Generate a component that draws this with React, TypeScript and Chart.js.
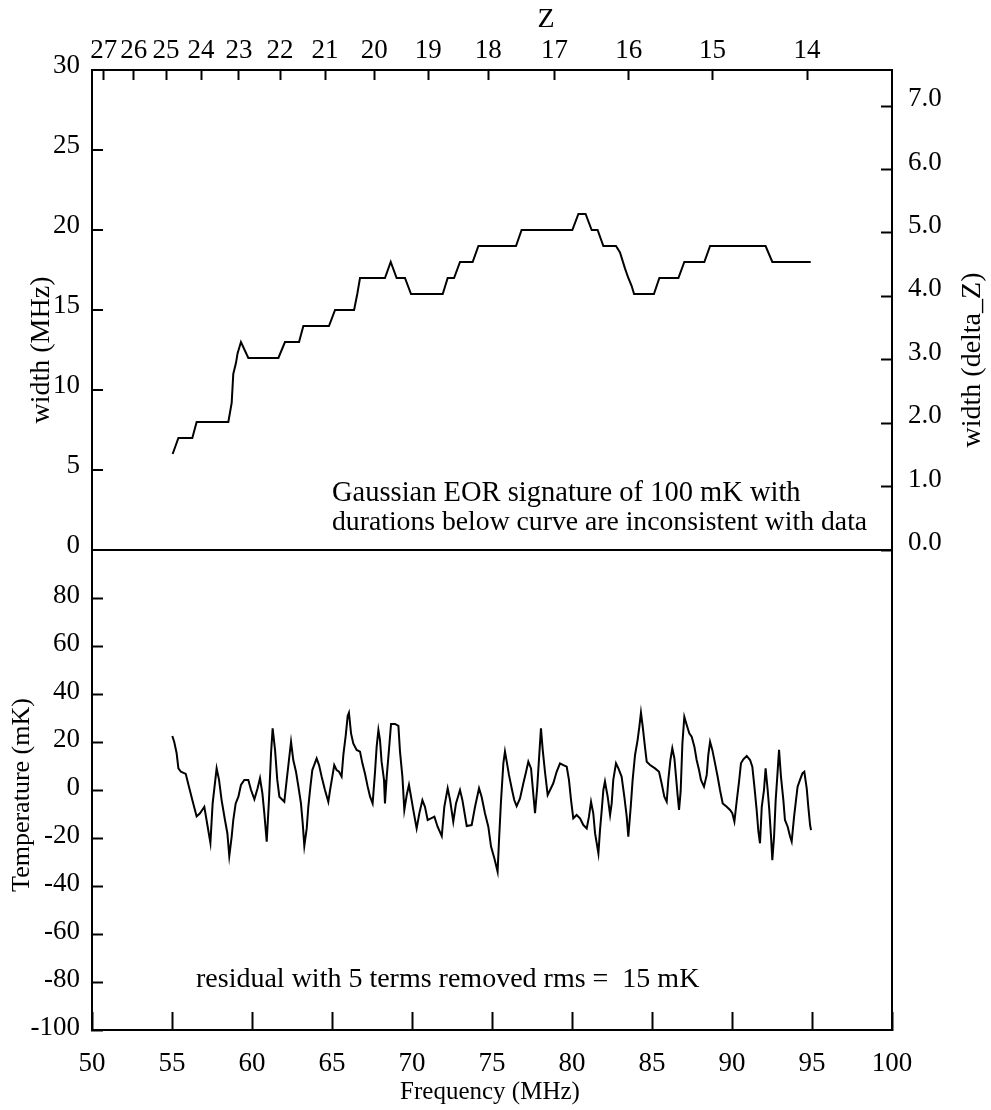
import React, { useEffect, useRef } from 'react';
import { Chart, registerables } from 'chart.js';

Chart.register(...registerables);

const FONT = '"Liberation Serif", "Times New Roman", serif';

// ---- Data ----
const widthFreq = [55.04, 55.4, 56.27, 56.54, 58.52, 58.73, 58.83, 59.0, 59.1, 59.31, 59.77, 61.65, 62.06, 62.94, 63.21, 64.81, 65.19, 66.38, 66.58, 66.75, 68.31, 68.67, 69.04, 69.56, 69.94, 71.92, 72.23, 72.63, 73.0, 73.79, 74.15, 76.5, 76.85, 80.02, 80.4, 80.85, 81.23, 81.6, 81.96, 82.75, 83.0, 83.31, 83.52, 83.73, 83.88, 85.12, 85.46, 86.65, 87.02, 88.27, 88.63, 92.1, 92.52, 94.92];
const widthMHz = [6, 7, 7, 8, 8, 9.2, 11, 11.7, 12.3, 13, 12, 12, 13, 13, 14, 14, 15, 15, 16, 17, 17, 18, 17, 17, 16, 16, 17, 17, 18, 18, 19, 19, 20, 20, 21, 21, 20, 20, 19, 19, 18.6, 17.6, 17, 16.5, 16, 16, 17, 17, 18, 18, 19, 19, 18, 18];

const tempFreq = [
  55.02, 55.14, 55.29, 55.4, 55.56, 55.86, 56.06, 56.27, 56.54, 56.75, 57.02, 57.23, 57.4, 57.54, 57.79, 57.94,
  58.1, 58.31, 58.46, 58.58, 58.73, 58.83, 58.98, 59.15, 59.31, 59.52, 59.77, 59.94, 60.15, 60.35, 60.5, 60.65,
  60.77, 60.92, 61.06, 61.19, 61.29, 61.44, 61.58, 61.71, 62.02, 62.17, 62.31, 62.44, 62.58, 62.75, 62.9, 63.06,
  63.17, 63.27, 63.42, 63.52, 63.65, 63.77, 64.04, 64.19, 64.35, 64.56, 64.77, 64.88, 65.02, 65.14, 65.29, 65.44,
  65.6, 65.71, 65.86, 65.98, 66.06, 66.19, 66.33, 66.54, 66.75, 66.9, 67.06, 67.23, 67.38, 67.54, 67.69, 67.79,
  67.9, 68.0, 68.1, 68.25, 68.31, 68.42, 68.56, 68.69, 68.94, 69.15, 69.25, 69.4, 69.52, 69.67, 69.81, 69.94,
  70.08, 70.29, 70.46, 70.65, 70.81, 70.98, 71.19, 71.4, 71.6, 71.86, 72.02, 72.23, 72.38, 72.58, 72.75, 73.0,
  73.15, 73.42, 73.73, 73.94, 74.19, 74.35, 74.56, 74.77, 74.94, 75.15, 75.35, 75.44, 75.56, 75.71, 75.81, 75.92,
  76.06, 76.23, 76.39, 76.54, 76.75, 76.96, 77.13, 77.27, 77.44, 77.54, 77.69, 77.83, 77.94, 78.06, 78.17, 78.31,
  78.48, 78.63, 78.83, 79.04, 79.25, 79.46, 79.67, 79.81, 79.94, 80.08, 80.29, 80.5, 80.71, 80.92, 81.06, 81.19,
  81.33, 81.44, 81.65, 81.75, 81.86, 81.96, 82.06, 82.23, 82.38, 82.48, 82.58, 82.75, 82.9, 83.1, 83.27, 83.42,
  83.52, 83.67, 83.79, 83.94, 84.1, 84.21, 84.31, 84.42, 84.56, 84.67, 84.88, 85.19, 85.44, 85.6, 85.77, 85.92,
  86.02, 86.15, 86.27, 86.4, 86.5, 86.6, 86.69, 86.79, 86.9, 87.02, 87.17, 87.33, 87.48, 87.65, 87.79, 87.94,
  88.06, 88.25, 88.42, 88.52, 88.63, 88.77, 88.94, 89.1, 89.25, 89.42, 89.67, 89.88, 90.02, 90.15, 90.29, 90.44,
  90.56, 90.71, 90.92, 91.13, 91.27, 91.4, 91.54, 91.65, 91.75, 91.86, 92.0, 92.1, 92.23, 92.33, 92.44, 92.52,
  92.63, 92.73, 92.83, 92.94, 93.06, 93.21, 93.31, 93.48, 93.63, 93.73, 93.88, 94.0, 94.1, 94.25, 94.4, 94.52,
  94.67, 94.77, 94.88, 94.94,
];
const tempMK = [
  22.5, 20, 15.3, 9, 7.6, 6.7, 1.4, -4.2, -11, -9.7, -7, -15.3, -22, -5.6, 9, 4.2,
  -4.2, -12.5, -18, -27.5, -19.4, -12.5, -5.6, -2.8, 2.1, 4.2, 4.2, 0, -3.9, 0.7, 4.9, -1.4,
  -9.7, -21.5, -4.2, 15.3, 25.7, 16.7, 4.2, -2.8, -4.9, 4.2, 12.5, 20.1, 12.5, 7.6, 1.4, -5.6,
  -13.9, -23.3, -16, -7, 1.4, 8.3, 13.2, 10.4, 5.6, 0, -4.9, 0, 5.6, 10.4, 8.3, 7.6,
  5.6, 14.6, 22.9, 30.8, 32.2, 23.6, 19.4, 16.7, 16, 11.1, 6.9, 1.4, -2.8, -5.6, 7.6, 18,
  25, 20.8, 11.8, 4.2, -5.6, 5.6, 16.7, 27.5, 27.5, 26.7, 16, 5.6, -8.3, -2.1, 2.1, -2.8,
  -8.3, -16, -9.7, -4.2, -7, -12.5, -11.8, -11.1, -15.3, -19.2, -7, 0.7, -4.2, -13.2, -5.6, 0,
  -4.2, -15, -14.6, -7, 0.7, -2.8, -9.7, -15.3, -23.6, -28.5, -34, -20.8, -4.9, 11.1, 16, 11.8,
  6.3, 0.7, -4.2, -6.7, -3.5, 2.8, 7.6, 11.8, 9, 1.4, -9.7, 1.4, 13.2, 25.7, 16.7, 7.6,
  -2.1, 0, 2.8, 7.6, 11.1, 10.4, 9.7, 4.2, -4.2, -11.8, -10.4, -11.8, -14.6, -16, -11.1, -4.9,
  -9.7, -18, -26.4, -16.7, -8.3, 0, 3.5, -2.8, -10.4, -5.6, 4.2, 11.1, 9, 5.6, -2.8, -11.1,
  -19.4, -7, 4.2, 14.6, 20.8, 26.4, 32.2, 26.4, 18, 11.8, 10.4, 9, 7.6, 2.8, -2.8, -4.9,
  4.2, 12.5, 17.4, 13.2, 5.6, -2.1, -8.3, -0.7, 19.4, 30.5, 27.1, 23.6, 22.2, 18, 12.5, 8.3,
  4.2, 1.4, 6.3, 14.6, 20.1, 16.7, 11.1, 5.6, 0, -5.6, -7, -8.3, -9.7, -13.2, -4.9, 3.5,
  11.1, 12.8, 14.2, 12.5, 9.7, 1.4, -8.3, -17.4, -22.2, -7, 0, 9, 0, -8.3, -19.4, -29.2,
  -19.4, -4.2, 5.6, 16.7, 5.6, -4.2, -12.5, -15.3, -19.4, -21.5, -11.1, -4.2, 1.4, 4.2, 6.9, 7.6,
  0.7, -7, -14.6, -16.7,
];

// ---- Axis ticks ----
const freqTicks = [50, 55, 60, 65, 70, 75, 80, 85, 90, 95, 100];
const zTicks = [27, 26, 25, 24, 23, 22, 21, 20, 19, 18, 17, 16, 15, 14];
const widthTicks = [0, 5, 10, 15, 20, 25, 30];
const deltaZTicks = [0, 1, 2, 3, 4, 5, 6, 7];
const tempTicks = [-100, -80, -60, -40, -20, 0, 20, 40, 60, 80];

const HI_REST_MHZ = 1420.4;

export default function App() {
  const ref = useRef<HTMLCanvasElement | null>(null);

  useEffect(() => {
    if (!ref.current) return;
    const font = { family: FONT, size: 27 };

    const textPlugin = {
      id: 'texts',
      afterDraw(chart: any) {
        const ctx = chart.ctx;
        const x = chart.scales.x;
        const yW = chart.scales.yW;
        const yT = chart.scales.yT;
        ctx.save();
        ctx.fillStyle = '#000';
        ctx.textBaseline = 'middle';
        ctx.textAlign = 'center';
        ctx.font = `28px ${FONT}`;
        ctx.fillText('Z', 546, 20);
        ctx.font = `25px ${FONT}`;
        ctx.fillText('Frequency (MHz)', 490, 1092);
        const vtext = (t: string, px: number, py: number) => {
          ctx.save();
          ctx.translate(px, py);
          ctx.rotate(-Math.PI / 2);
          ctx.fillText(t, 0, 0);
          ctx.restore();
        };
        ctx.font = `28px ${FONT}`;
        vtext('width (MHz)', 42, 350);
        ctx.font = `26px ${FONT}`;
        vtext('Temperature (mK)', 22, 795);
        ctx.font = `28px ${FONT}`;
        vtext('width (delta_Z)', 973, 360);
        ctx.textAlign = 'left';
        ctx.font = `28.5px ${FONT}`;
        ctx.fillText('Gaussian EOR signature of 100 mK with', x.getPixelForValue(65), yW.getPixelForValue(3.56));
        ctx.font = `27.7px ${FONT}`;
        ctx.fillText('durations below curve are inconsistent with data', x.getPixelForValue(65), yW.getPixelForValue(1.7));
        ctx.font = `28px ${FONT}`;
        ctx.fillText('residual with 5 terms removed rms =  15 mK', x.getPixelForValue(56.5), yT.getPixelForValue(-79));
        ctx.restore();
      },
    };

    const tickGrid = (len: number) => ({
      drawOnChartArea: false,
      drawTicks: true,
      tickLength: len,
      tickColor: '#000',
      tickWidth: 2,
    });

    const chart = new Chart(ref.current, {
      type: 'line',
      data: {
        datasets: [
          {
            data: widthFreq.map((f, i) => ({ x: f, y: widthMHz[i] })),
            xAxisID: 'x',
            yAxisID: 'yW',
            borderColor: '#000',
            borderWidth: 2,
            pointRadius: 0,
            fill: false,
            tension: 0,
          },
          {
            data: tempFreq.map((f, i) => ({ x: f, y: tempMK[i] })),
            xAxisID: 'x',
            yAxisID: 'yT',
            borderColor: '#000',
            borderWidth: 2,
            pointRadius: 0,
            fill: false,
            tension: 0,
          },
        ],
      },
      options: {
        animation: false,
        responsive: false,
        devicePixelRatio: 1,
        layout: { padding: 0 },
        plugins: { legend: { display: false }, tooltip: { enabled: false } },
        events: [],
        scales: {
          x: {
            type: 'linear',
            position: 'bottom',
            min: 50,
            max: 100,
            afterBuildTicks: (s: any) => { s.ticks = freqTicks.map((v) => ({ value: v })); },
            afterFit: (s: any) => { s.height = 80; },
            ticks: { font, color: '#000', padding: 36, maxRotation: 0, autoSkip: false },
            grid: tickGrid(-18),
            border: { display: true, color: '#000', width: 2 },
          },
          xTop: {
            type: 'linear',
            position: 'top',
            min: 50,
            max: 100,
            afterBuildTicks: (s: any) => { s.ticks = zTicks.map((z) => ({ value: HI_REST_MHZ / (1 + z) })); },
            afterFit: (s: any) => { s.height = 70; },
            ticks: {
              font, color: '#000', padding: 13, maxRotation: 0, autoSkip: false,
              callback: (_v: any, i: number) => String(zTicks[i]),
            },
            grid: tickGrid(-10),
            border: { display: true, color: '#000', width: 2 },
          },
          yT: {
            type: 'linear',
            position: 'left',
            stack: 'left',
            stackWeight: 1,
            weight: 0,
            min: -100,
            max: 100,
            afterBuildTicks: (s: any) => { s.ticks = tempTicks.map((v) => ({ value: v })); },
            afterFit: (s: any) => { s.width = 92; },
            ticks: { font, color: '#000', padding: 23, autoSkip: false, labelOffset: -2 },
            grid: tickGrid(-11),
            border: { display: true, color: '#000', width: 2 },
          },
          yW: {
            type: 'linear',
            position: 'left',
            stack: 'left',
            stackWeight: 1,
            weight: 1,
            min: 0,
            max: 30,
            afterBuildTicks: (s: any) => { s.ticks = widthTicks.map((v) => ({ value: v })); },
            afterFit: (s: any) => { s.width = 92; },
            ticks: { font, color: '#000', padding: 23, autoSkip: false, labelOffset: -4 },
            grid: {
              drawOnChartArea: true,
              drawTicks: true,
              tickLength: -11,
              tickColor: '#000',
              tickWidth: 2,
              lineWidth: 2,
              color: (c: any) => (c.tick && c.tick.value === 0 ? '#000' : 'rgba(0,0,0,0)'),
            },
            border: { display: true, color: '#000', width: 2 },
          },
          yZ: {
            type: 'linear',
            position: 'right',
            min: -7.57,
            max: 7.57,
            afterBuildTicks: (s: any) => { s.ticks = deltaZTicks.map((v) => ({ value: v })); },
            afterFit: (s: any) => { s.width = 99; },
            ticks: {
              font, color: '#000', padding: 27, autoSkip: false, labelOffset: -7,
              callback: (v: any) => Number(v).toFixed(1),
            },
            grid: tickGrid(-11),
            border: { display: true, color: '#000', width: 2 },
          },
        },
      },
      plugins: [textPlugin],
    } as any);

    return () => chart.destroy();
  }, []);

  return (
    <div style={{ position: 'absolute', left: 0, top: 0, width: 991, height: 1110, background: '#fff' }}>
      <canvas ref={ref} width={991} height={1110} style={{ display: 'block', width: 991, height: 1110 }} />
    </div>
  );
}
